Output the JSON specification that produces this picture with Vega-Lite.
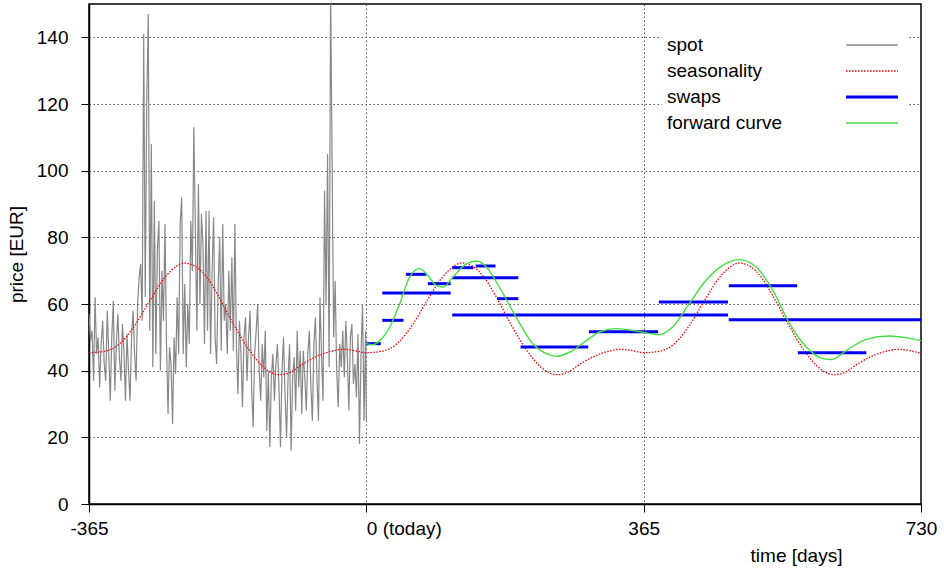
{
  "$schema": "https://vega.github.io/schema/vega-lite/v6.json",
  "width": 832,
  "height": 500,
  "autosize": {"type": "none"},
  "padding": {"left": 89, "top": 4, "right": 23, "bottom": 68},
  "background": "white",
  "config": {
    "font": "Liberation Sans",
    "view": {"stroke": "black", "strokeWidth": 1.5},
    "axis": {
      "domainColor": "black", "domainWidth": 1.5,
      "tickColor": "black", "tickWidth": 1, "tickSize": 8,
      "gridColor": "#555555", "gridDash": [1.5, 2.5], "gridWidth": 1,
      "labelFont": "Liberation Sans", "labelFontSize": 19, "labelColor": "black",
      "titleFont": "Liberation Sans", "titleFontSize": 19, "titleFontWeight": "normal", "titleColor": "black",
      "labelOverlap": false, "labelFlush": false
    }
  },
  "datasets": {
    "spot": [
      {"day": -365, "price": 57}, {"day": -363, "price": 49}, {"day": -361, "price": 52}, {"day": -359, "price": 37}, {"day": -357, "price": 62},
      {"day": -355, "price": 45}, {"day": -353, "price": 50}, {"day": -351, "price": 35}, {"day": -349, "price": 48}, {"day": -347, "price": 55},
      {"day": -345, "price": 42}, {"day": -343, "price": 37}, {"day": -341, "price": 58}, {"day": -339, "price": 45}, {"day": -337, "price": 31},
      {"day": -335, "price": 50}, {"day": -333, "price": 61}, {"day": -331, "price": 34}, {"day": -329, "price": 48}, {"day": -327, "price": 57},
      {"day": -325, "price": 44}, {"day": -323, "price": 37}, {"day": -321, "price": 54}, {"day": -319, "price": 46}, {"day": -317, "price": 31},
      {"day": -315, "price": 51}, {"day": -313, "price": 40}, {"day": -311, "price": 31}, {"day": -309, "price": 50}, {"day": -307, "price": 58},
      {"day": -305, "price": 45}, {"day": -303, "price": 37}, {"day": -301, "price": 60}, {"day": -299, "price": 68}, {"day": -297, "price": 72},
      {"day": -295, "price": 55}, {"day": -293, "price": 141}, {"day": -291, "price": 62}, {"day": -289, "price": 120}, {"day": -287, "price": 147},
      {"day": -285, "price": 52}, {"day": -283, "price": 108}, {"day": -281, "price": 41}, {"day": -279, "price": 91}, {"day": -277, "price": 45},
      {"day": -275, "price": 76}, {"day": -273, "price": 85}, {"day": -271, "price": 40}, {"day": -269, "price": 70}, {"day": -267, "price": 55},
      {"day": -265, "price": 84}, {"day": -263, "price": 48}, {"day": -261, "price": 27}, {"day": -259, "price": 47}, {"day": -257, "price": 42},
      {"day": -255, "price": 24}, {"day": -253, "price": 50}, {"day": -251, "price": 39}, {"day": -249, "price": 62}, {"day": -247, "price": 45},
      {"day": -245, "price": 84}, {"day": -243, "price": 92}, {"day": -241, "price": 45}, {"day": -239, "price": 66}, {"day": -237, "price": 41},
      {"day": -235, "price": 60}, {"day": -233, "price": 48}, {"day": -231, "price": 85}, {"day": -229, "price": 70}, {"day": -227, "price": 113},
      {"day": -225, "price": 82}, {"day": -223, "price": 52}, {"day": -221, "price": 96}, {"day": -219, "price": 60}, {"day": -217, "price": 87},
      {"day": -215, "price": 78}, {"day": -213, "price": 48}, {"day": -211, "price": 88}, {"day": -209, "price": 52}, {"day": -207, "price": 88},
      {"day": -205, "price": 45}, {"day": -203, "price": 70}, {"day": -201, "price": 86}, {"day": -199, "price": 50}, {"day": -197, "price": 42},
      {"day": -195, "price": 66}, {"day": -193, "price": 80}, {"day": -191, "price": 46}, {"day": -189, "price": 84}, {"day": -187, "price": 55},
      {"day": -185, "price": 60}, {"day": -183, "price": 45}, {"day": -181, "price": 70}, {"day": -179, "price": 52}, {"day": -177, "price": 74},
      {"day": -175, "price": 46}, {"day": -173, "price": 84}, {"day": -171, "price": 48}, {"day": -169, "price": 33}, {"day": -167, "price": 55},
      {"day": -165, "price": 45}, {"day": -163, "price": 29}, {"day": -161, "price": 50}, {"day": -159, "price": 56}, {"day": -157, "price": 37},
      {"day": -155, "price": 50}, {"day": -153, "price": 58}, {"day": -151, "price": 35}, {"day": -149, "price": 23}, {"day": -147, "price": 45},
      {"day": -145, "price": 52}, {"day": -143, "price": 60}, {"day": -141, "price": 40}, {"day": -139, "price": 31}, {"day": -137, "price": 48},
      {"day": -135, "price": 38}, {"day": -133, "price": 52}, {"day": -131, "price": 22}, {"day": -129, "price": 40}, {"day": -127, "price": 17},
      {"day": -125, "price": 38}, {"day": -123, "price": 45}, {"day": -121, "price": 31}, {"day": -119, "price": 42}, {"day": -117, "price": 48},
      {"day": -115, "price": 35}, {"day": -113, "price": 17}, {"day": -111, "price": 40}, {"day": -109, "price": 50}, {"day": -107, "price": 33},
      {"day": -105, "price": 20}, {"day": -103, "price": 38}, {"day": -101, "price": 48}, {"day": -99, "price": 16}, {"day": -97, "price": 38},
      {"day": -95, "price": 44}, {"day": -93, "price": 28}, {"day": -91, "price": 52}, {"day": -89, "price": 35}, {"day": -87, "price": 46},
      {"day": -85, "price": 27}, {"day": -83, "price": 46}, {"day": -81, "price": 38}, {"day": -79, "price": 28}, {"day": -77, "price": 45},
      {"day": -75, "price": 52}, {"day": -73, "price": 35}, {"day": -71, "price": 25}, {"day": -69, "price": 48}, {"day": -67, "price": 56},
      {"day": -65, "price": 38}, {"day": -63, "price": 25}, {"day": -61, "price": 62}, {"day": -59, "price": 45}, {"day": -57, "price": 31},
      {"day": -55, "price": 94}, {"day": -53, "price": 60}, {"day": -51, "price": 105}, {"day": -49, "price": 41}, {"day": -47, "price": 155},
      {"day": -45, "price": 101}, {"day": -43, "price": 50}, {"day": -41, "price": 67}, {"day": -39, "price": 40}, {"day": -37, "price": 29},
      {"day": -35, "price": 48}, {"day": -33, "price": 41}, {"day": -31, "price": 52}, {"day": -29, "price": 38}, {"day": -27, "price": 55},
      {"day": -25, "price": 44}, {"day": -23, "price": 28}, {"day": -21, "price": 50}, {"day": -19, "price": 54}, {"day": -17, "price": 36},
      {"day": -15, "price": 42}, {"day": -13, "price": 32}, {"day": -11, "price": 51}, {"day": -9, "price": 18}, {"day": -7, "price": 45},
      {"day": -5, "price": 60}, {"day": -3, "price": 25}, {"day": -1, "price": 52}, {"day": 0, "price": 25}
    ],
    "season": [
      {"day": -365, "price": 45.4}, {"day": -345, "price": 45.8}, {"day": -325, "price": 48.0}, {"day": -305, "price": 53.5}, {"day": -285, "price": 61.0},
      {"day": -265, "price": 68.0}, {"day": -250, "price": 71.3}, {"day": -240, "price": 72.3}, {"day": -225, "price": 71.3}, {"day": -210, "price": 68.0},
      {"day": -195, "price": 62.5}, {"day": -175, "price": 54.0}, {"day": -155, "price": 46.5}, {"day": -135, "price": 41.0}, {"day": -115, "price": 38.8},
      {"day": -100, "price": 39.5}, {"day": -85, "price": 41.8}, {"day": -65, "price": 44.3}, {"day": -45, "price": 45.9}, {"day": -30, "price": 46.4},
      {"day": -15, "price": 46.0},
      {"day": 0, "price": 45.4}, {"day": 20, "price": 45.8}, {"day": 40, "price": 48.0}, {"day": 60, "price": 53.5}, {"day": 80, "price": 61.0},
      {"day": 100, "price": 68.0}, {"day": 115, "price": 71.3}, {"day": 125, "price": 72.3}, {"day": 140, "price": 71.3}, {"day": 155, "price": 68.0},
      {"day": 170, "price": 62.5}, {"day": 190, "price": 54.0}, {"day": 210, "price": 46.5}, {"day": 230, "price": 41.0}, {"day": 250, "price": 38.8},
      {"day": 265, "price": 39.5}, {"day": 280, "price": 41.8}, {"day": 300, "price": 44.3}, {"day": 320, "price": 45.9}, {"day": 335, "price": 46.4},
      {"day": 350, "price": 46.0},
      {"day": 365, "price": 45.4}, {"day": 385, "price": 45.8}, {"day": 405, "price": 48.0}, {"day": 425, "price": 53.5}, {"day": 445, "price": 61.0},
      {"day": 465, "price": 68.0}, {"day": 480, "price": 71.3}, {"day": 490, "price": 72.3}, {"day": 505, "price": 71.3}, {"day": 520, "price": 68.0},
      {"day": 535, "price": 62.5}, {"day": 555, "price": 54.0}, {"day": 575, "price": 46.5}, {"day": 595, "price": 41.0}, {"day": 615, "price": 38.8},
      {"day": 630, "price": 39.5}, {"day": 645, "price": 41.8}, {"day": 665, "price": 44.3}, {"day": 685, "price": 45.9}, {"day": 700, "price": 46.4},
      {"day": 715, "price": 46.0}, {"day": 730, "price": 45.2}
    ],
    "swaps": [
      {"start": 0, "end": 19, "price": 48.1},
      {"start": 21, "end": 49, "price": 55.1},
      {"start": 21, "end": 111, "price": 63.3},
      {"start": 52, "end": 79, "price": 68.9},
      {"start": 81, "end": 111, "price": 66.1},
      {"start": 113, "end": 141, "price": 70.9},
      {"start": 144, "end": 170, "price": 71.4},
      {"start": 113, "end": 200, "price": 67.9},
      {"start": 172, "end": 200, "price": 61.6},
      {"start": 113, "end": 476, "price": 56.7},
      {"start": 203, "end": 292, "price": 47.1},
      {"start": 293, "end": 384, "price": 51.7},
      {"start": 385, "end": 476, "price": 60.6},
      {"start": 477, "end": 567, "price": 65.5},
      {"start": 477, "end": 730, "price": 55.3},
      {"start": 568, "end": 658, "price": 45.4}
    ],
    "forward": [
      {"day": 0, "price": 48.1}, {"day": 9, "price": 47.8}, {"day": 18, "price": 49.1}, {"day": 31, "price": 53.1}, {"day": 44, "price": 60.1},
      {"day": 57, "price": 68.1}, {"day": 70, "price": 70.6}, {"day": 79, "price": 69.1}, {"day": 92, "price": 65.6}, {"day": 101, "price": 65.1},
      {"day": 114, "price": 68.1}, {"day": 132, "price": 72.1}, {"day": 145, "price": 72.9}, {"day": 158, "price": 71.1}, {"day": 175, "price": 65.1},
      {"day": 197, "price": 56.1}, {"day": 219, "price": 48.1}, {"day": 237, "price": 45.1}, {"day": 250, "price": 44.3}, {"day": 268, "price": 45.6},
      {"day": 290, "price": 49.1}, {"day": 307, "price": 51.6}, {"day": 329, "price": 52.6}, {"day": 355, "price": 51.9}, {"day": 372, "price": 51.2},
      {"day": 386, "price": 50.8}, {"day": 403, "price": 53.1}, {"day": 425, "price": 60.1}, {"day": 447, "price": 67.1}, {"day": 469, "price": 71.6},
      {"day": 491, "price": 73.3}, {"day": 513, "price": 71.1}, {"day": 535, "price": 64.1}, {"day": 557, "price": 54.1}, {"day": 579, "price": 47.1},
      {"day": 601, "price": 43.6}, {"day": 612, "price": 43.3}, {"day": 632, "price": 46.1}, {"day": 658, "price": 49.4}, {"day": 688, "price": 50.4},
      {"day": 710, "price": 49.9}, {"day": 730, "price": 49.0}
    ]
  },
  "layer": [
    {
      "data": {"name": "spot"},
      "mark": {"type": "line", "strokeWidth": 1.2, "clip": true},
      "encoding": {
        "x": {
          "field": "day", "type": "quantitative",
          "scale": {"domain": [-365, 730], "nice": false, "zero": false},
          "axis": {
            "values": [-365, 0, 365, 730],
            "title": "time [days]",
            "grid": true,
            "labelPadding": 7,
            "labelExpr": "datum.value == 0 ? '0 (today)' : toString(datum.value)",
            "labelAlign": {"condition": {"test": "datum.value == 0", "value": "left"}, "value": "center"},
            "labelDx": {"condition": {"test": "datum.value == 0", "value": -4}, "value": 0},
            "titleX": 707, "titleY": 51, "titleAnchor": null, "titleAlign": "center", "titleBaseline": "middle"
          }
        },
        "y": {
          "field": "price", "type": "quantitative",
          "scale": {"domain": [0, 150], "nice": false},
          "axis": {
            "values": [0, 20, 40, 60, 80, 100, 120, 140],
            "title": "price [EUR]",
            "grid": true,
            "labelPadding": 13,
            "titleX": -67, "titleY": 250, "titleAnchor": null, "titleAlign": "center", "titleBaseline": "alphabetic"
          }
        },
        "color": {
          "datum": "spot", "type": "nominal",
          "scale": {"domain": ["spot", "seasonality", "swaps", "forward curve"], "range": ["#888888", "#ff0000", "#0000ee", "#44dd44"]},
          "legend": {
            "title": null, "orient": "none", "legendX": 573, "legendY": 26.5, "direction": "vertical",
            "symbolType": "stroke", "symbolSize": 16, "symbolOffset": 195.5, "labelOffset": -214.5,
            "labelFont": "Liberation Sans", "labelFontSize": 19, "labelColor": "black", "labelLimit": 300,
            "rowPadding": 6, "padding": 5, "fillColor": "white",
            "encode": {"symbols": {"update": {
              "size": {"value": 2704},
              "strokeWidth": {"signal": "datum.value === 'swaps' ? 3 : 1.4"},
              "strokeDash": {"signal": "datum.value === 'seasonality' ? [1.5, 1.5] : []"}
            }}}
          }
        }
      }
    },
    {
      "data": {"name": "season"},
      "mark": {"type": "line", "strokeWidth": 1.3, "strokeDash": [1.5, 1.5], "interpolate": "monotone", "clip": true},
      "encoding": {
        "x": {"field": "day", "type": "quantitative"},
        "y": {"field": "price", "type": "quantitative"},
        "color": {"datum": "seasonality", "type": "nominal"}
      }
    },
    {
      "data": {"name": "swaps"},
      "mark": {"type": "rule", "strokeWidth": 3, "clip": true},
      "encoding": {
        "x": {"field": "start", "type": "quantitative"},
        "x2": {"field": "end"},
        "y": {"field": "price", "type": "quantitative"},
        "color": {"datum": "swaps", "type": "nominal"}
      }
    },
    {
      "data": {"name": "forward"},
      "mark": {"type": "line", "strokeWidth": 1.4, "interpolate": "monotone", "clip": true},
      "encoding": {
        "x": {"field": "day", "type": "quantitative"},
        "y": {"field": "price", "type": "quantitative"},
        "color": {"datum": "forward curve", "type": "nominal"}
      }
    }
  ]
}
